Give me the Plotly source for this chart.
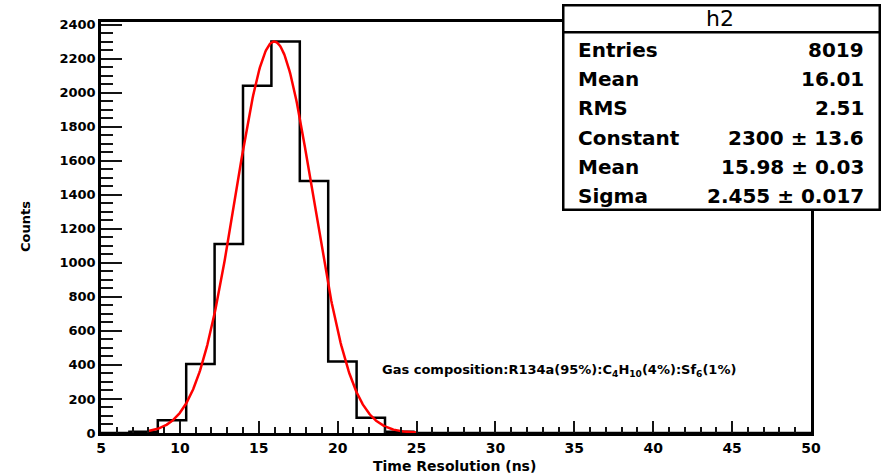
import numpy as np
import plotly.graph_objects as go

# ---------------- data ----------------
bin_edges = [5.0 + 1.8 * i for i in range(26)]  # 25 bins from 5 to 50
bin_counts = [0, 8, 75, 405, 1110, 2040, 2300, 1480, 420, 90, 8,
              0, 0, 0, 0, 0, 0, 0, 0, 0, 0, 0, 0, 0, 0]

fit_constant = 2300.0
fit_mean = 15.98
fit_sigma = 2.455
fit_range = [8.0, 25.0]

stats_title = "h2"
stats_labels = ["Entries", "Mean", "RMS", "Constant", "Mean", "Sigma"]
stats_values = ["8019", "16.01", "2.51", "2300 ± 13.6", "15.98 ± 0.03", "2.455 ± 0.017"]

x_title = "Time Resolution (ns)"
y_title = "Counts"
gas_text = "Gas composition:R134a(95%):C<sub>4</sub>H<sub>10</sub>(4%):Sf<sub>6</sub>(1%)"

x_range = [5, 50]
y_range = [0, 2415]

# ---------------- layout helpers ----------------
W, H = 881, 475
L, R, T, B = 101, 70, 22, 42
PW, PH = W - L - R, H - T - B


def fx(px):
    return (px - L) / PW


def fy(py):
    return (H - B - py) / PH


FONT = "DejaVu Sans"
TICK = "#141414"

fig = go.Figure()

# histogram outline (step)
hx = list(bin_edges)
hy = list(bin_counts) + [bin_counts[-1]]
fig.add_trace(go.Scatter(x=hx, y=hy, mode="lines", line=dict(shape="hv", color="black", width=2.5),
                         hoverinfo="skip"))

# Gaussian fit curve from the fit parameters
gx = np.linspace(fit_range[0], fit_range[1], 400)
gy = fit_constant * np.exp(-0.5 * ((gx - fit_mean) / fit_sigma) ** 2)
fig.add_trace(go.Scatter(x=gx, y=gy, mode="lines", line=dict(color="#ff0000", width=2.5), hoverinfo="skip"))

fig.update_layout(template="none", width=W, height=H, margin=dict(l=L, r=R, t=T, b=B),
                  plot_bgcolor="white", paper_bgcolor="white", showlegend=False,
                  font=dict(family=FONT, size=14, color="black"))

fig.update_xaxes(range=x_range, showline=True, linecolor="black", linewidth=2.5, mirror=True, showgrid=False,
                 zeroline=False, ticks="inside", ticklen=12, tickwidth=2, tickcolor=TICK, dtick=5,
                 tickfont=dict(family=FONT, size=14, color="black", weight="bold"),
                 minor=dict(ticks="inside", ticklen=6, tickwidth=2, tickcolor=TICK, dtick=1))
fig.update_yaxes(range=y_range, showline=True, linecolor="black", linewidth=2.5, mirror=True, showgrid=False,
                 zeroline=False, ticks="inside", ticklen=21, tickwidth=2, tickcolor=TICK, dtick=200,
                 tickfont=dict(family=FONT, size=13, color="black", weight="bold"),
                 minor=dict(ticks="inside", ticklen=12, tickwidth=2, tickcolor=TICK, dtick=50))

# axis titles
fig.add_annotation(xref="paper", yref="paper", x=fx(454), y=fy(466), text="<b>" + x_title + "</b>", showarrow=False,
                   font=dict(family=FONT, size=14, color="black"), xanchor="center", yanchor="middle")
fig.add_annotation(xref="paper", yref="paper", x=fx(26), y=fy(227), text="<b>" + y_title + "</b>", showarrow=False,
                   textangle=-90, font=dict(family=FONT, size=13, color="black"), xanchor="center", yanchor="middle")

# gas composition text
fig.add_annotation(xref="paper", yref="paper", x=fx(380), y=fy(370), text="<b>" + gas_text + "</b>", showarrow=False,
                   font=dict(family=FONT, size=13, color="black"), xanchor="left", yanchor="middle")

# stats box (drawn as bordered annotation boxes)
bx0, bx1, by0, by1, bsep = 561.5, 878, 3.5, 208.5, 33.5
fig.add_annotation(xref="paper", yref="paper", x=fx(bx0), y=fy(by0), xanchor="left", yanchor="top",
                   text=" ", showarrow=False, width=bx1 - bx0 - 2.5, height=bsep - by0 - 2.5,
                   bgcolor="white", bordercolor="black", borderwidth=2.5, borderpad=0)
fig.add_annotation(xref="paper", yref="paper", x=fx(bx0), y=fy(bsep - 2.5), xanchor="left", yanchor="top",
                   text=" ", showarrow=False, width=bx1 - bx0 - 2.5, height=by1 - bsep,
                   bgcolor="white", bordercolor="black", borderwidth=2.5, borderpad=0)
fig.add_annotation(xref="paper", yref="paper", x=fx((bx0 + bx1) / 2), y=fy(18.5), text=stats_title,
                   showarrow=False, font=dict(family=FONT, size=22, color="black"),
                   xanchor="center", yanchor="middle")
row_y0, row_dy = 50, 29.2
for i, (lab, val) in enumerate(zip(stats_labels, stats_values)):
    yy = fy(row_y0 + i * row_dy)
    fig.add_annotation(xref="paper", yref="paper", x=fx(576), y=yy, text="<b>" + lab + "</b>", showarrow=False,
                       font=dict(family=FONT, size=20, color="black"),
                       xanchor="left", yanchor="middle")
    fig.add_annotation(xref="paper", yref="paper", x=fx(866), y=yy, text="<b>" + val + "</b>", showarrow=False,
                       font=dict(family=FONT, size=20, color="black"),
                       xanchor="right", yanchor="middle")

fig.write_html("out.html")
